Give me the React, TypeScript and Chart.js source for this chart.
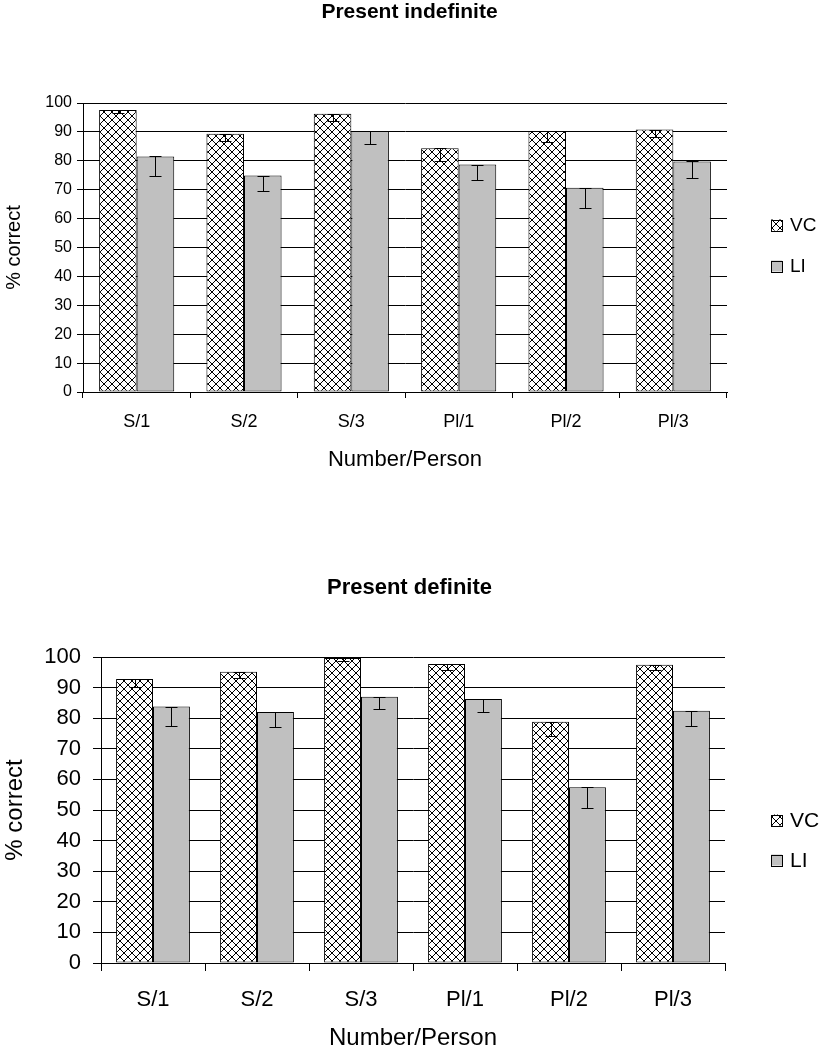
import React, { useEffect, useRef } from "react";
import { Chart, registerables } from "chart.js";

Chart.register(...registerables);

// ---- data ----
const categories = ["S/1", "S/2", "S/3", "Pl/1", "Pl/2", "Pl/3"];
const seriesNames = ["VC", "LI"];
const yTickValues = [0, 10, 20, 30, 40, 50, 60, 70, 80, 90, 100];

const indefiniteVC = [97.6, 89.4, 96.3, 84.3, 90.3, 90.8];
const indefiniteLI = [81.5, 74.9, 90.3, 78.7, 70.7, 79.8];
const indefiniteVCErr = [1.0, 2.6, 2.4, 4.2, 3.7, 2.4];
const indefiniteLIErr = [6.6, 5.5, 4.5, 5.4, 6.9, 5.7];

const definiteVC = [92.8, 95.2, 99.7, 97.7, 78.8, 97.5];
const definiteLI = [83.8, 82.0, 87.0, 86.3, 57.4, 82.4];
const definiteVCErr = [2.5, 2.0, 1.0, 2.0, 4.6, 1.8];
const definiteLIErr = [6.2, 5.0, 4.0, 4.2, 6.9, 4.8];

const FONT = "'Liberation Sans', Arial, Helvetica, sans-serif";

function makeHatch(): CanvasPattern | string {
  const c = document.createElement("canvas");
  c.width = 8;
  c.height = 8;
  const g = c.getContext("2d");
  if (!g) return "#fff";
  g.fillStyle = "#fff";
  g.fillRect(0, 0, 8, 8);
  g.strokeStyle = "#000";
  g.lineWidth = 1;
  g.beginPath();
  g.moveTo(0, 0);
  g.lineTo(8, 8);
  g.moveTo(8, 0);
  g.lineTo(0, 8);
  g.stroke();
  return g.createPattern(c, "repeat") || "#fff";
}

const errorBarPlugin = {
  id: "errorBars",
  afterDatasetsDraw(chart: any) {
    const { ctx } = chart;
    const yScale = chart.scales.y;
    chart.data.datasets.forEach((ds: any, di: number) => {
      const meta = chart.getDatasetMeta(di);
      const errs: number[] = ds.errors || [];
      meta.data.forEach((bar: any, i: number) => {
        const v = ds.data[i] as number;
        const e = errs[i] || 0;
        const x = Math.round(bar.x) + 0.5;
        const top = Math.round(yScale.getPixelForValue(v)) + 0.5;
        const bot = Math.round(yScale.getPixelForValue(v - e)) + 0.5;
        const cap = 6;
        ctx.save();
        ctx.strokeStyle = "#000";
        ctx.lineWidth = 1;
        ctx.beginPath();
        ctx.moveTo(x, top);
        ctx.lineTo(x, bot);
        ctx.moveTo(x - cap, bot);
        ctx.lineTo(x + cap, bot);
        ctx.moveTo(x - cap, top);
        ctx.lineTo(x + cap, top);
        ctx.stroke();
        ctx.restore();
      });
    });
  },
};

const sideLegendPlugin = {
  id: "sideLegend",
  afterDraw(chart: any, _args: any, opts: any) {
    const { ctx } = chart;
    const datasets = chart.data.datasets;
    ctx.save();
    datasets.forEach((ds: any, i: number) => {
      const cy = opts.ys[i];
      const bx = opts.x;
      const s = opts.box;
      ctx.fillStyle = ds.backgroundColor;
      ctx.fillRect(bx, cy - s / 2, s, s);
      ctx.strokeStyle = "#000";
      ctx.lineWidth = 1;
      ctx.strokeRect(bx + 0.5, Math.round(cy - s / 2) + 0.5, s, s);
      ctx.fillStyle = "#000";
      ctx.font = `${opts.size}px ${FONT}`;
      ctx.textBaseline = "middle";
      ctx.textAlign = "left";
      ctx.fillText(ds.label, opts.textX, cy + 1);
    });
    ctx.restore();
  },
};

type Cfg = {
  title: string;
  vc: number[];
  li: number[];
  vcErr: number[];
  liErr: number[];
  width: number;
  height: number;
  yWidth: number;
  rightWidth: number;
  xHeight: number;
  titleSize: number;
  titlePadTop: number;
  titlePadBottom: number;
  yTickSize: number;
  xTickSize: number;
  yTitleSize: number;
  xTitleSize: number;
  yTickLen: number;
  yTickPad: number;
  xTickLen: number;
  xTickPad: number;
  xTitlePad: number;
  yTitlePad: number;
  legendSize: number;
  legendX: number;
  legendTextX: number;
  legendYs: number[];
  catPct: number;
};

function BarPanel(props: { cfg: Cfg }) {
  const ref = useRef<HTMLCanvasElement | null>(null);
  const cfg = props.cfg;
  useEffect(() => {
    if (!ref.current) return;
    const hatch = makeHatch();
    const chart = new Chart(ref.current, {
      type: "bar",
      data: {
        labels: categories,
        datasets: [
          {
            label: seriesNames[0],
            data: cfg.vc,
            errors: cfg.vcErr,
            backgroundColor: hatch as any,
            borderColor: "#000",
            borderWidth: 1,
            borderSkipped: false,
          } as any,
          {
            label: seriesNames[1],
            data: cfg.li,
            errors: cfg.liErr,
            backgroundColor: "#c0c0c0",
            borderColor: "#000",
            borderWidth: 1,
            borderSkipped: false,
          } as any,
        ],
      },
      options: {
        responsive: false,
        animation: false,
        devicePixelRatio: 1,
        datasets: {
          bar: { categoryPercentage: cfg.catPct, barPercentage: 1 },
        },
        layout: { padding: 0 },
        plugins: {
          legend: { display: false },
          tooltip: { enabled: false },
          title: {
            display: true,
            text: cfg.title,
            color: "#000",
            font: { family: FONT, size: cfg.titleSize, weight: "bold", lineHeight: 1 },
            padding: { top: cfg.titlePadTop, bottom: cfg.titlePadBottom },
          },
          sideLegend: {
            x: cfg.legendX,
            textX: cfg.legendTextX,
            ys: cfg.legendYs,
            box: 11,
            size: cfg.legendSize,
          },
        } as any,
        scales: {
          x: {
            grid: {
              display: true,
              drawOnChartArea: false,
              drawTicks: true,
              tickLength: cfg.xTickLen,
              offset: true,
              color: "#000",
            },
            border: { display: true, color: "#000", width: 1 },
            ticks: {
              color: "#000",
              font: { family: FONT, size: cfg.xTickSize },
              padding: cfg.xTickPad,
              maxRotation: 0,
            },
            title: {
              display: true,
              text: "Number/Person",
              color: "#000",
              font: { family: FONT, size: cfg.xTitleSize, lineHeight: 1 },
              padding: { top: 0, bottom: cfg.xTitlePad },
            },
            afterFit: (s: any) => {
              s.height = cfg.xHeight;
            },
          },
          y: {
            min: 0,
            max: 100,
            afterBuildTicks: (s: any) => {
              s.ticks = yTickValues.map((v) => ({ value: v }));
            },
            grid: {
              color: "#000",
              drawTicks: true,
              tickLength: cfg.yTickLen,
            },
            border: { display: true, color: "#000", width: 1 },
            ticks: {
              color: "#000",
              font: { family: FONT, size: cfg.yTickSize },
              padding: cfg.yTickPad,
            },
            title: {
              display: true,
              text: "% correct",
              color: "#000",
              font: { family: FONT, size: cfg.yTitleSize, lineHeight: 1 },
              padding: { top: cfg.yTitlePad, bottom: 0 },
            },
            afterFit: (s: any) => {
              s.width = cfg.yWidth;
            },
          },
          // invisible spacer axis that reserves the legend column on the right
          legendSpace: {
            type: "linear",
            position: "right",
            display: true,
            min: 0,
            max: 100,
            grid: { display: false, drawTicks: false },
            border: { display: false },
            ticks: { display: false },
            afterFit: (s: any) => {
              s.width = cfg.rightWidth;
            },
          },
        },
      } as any,
      plugins: [errorBarPlugin, sideLegendPlugin],
    });
    return () => chart.destroy();
  }, [cfg]);
  return <canvas ref={ref} width={cfg.width} height={cfg.height} style={{ display: "block" }} />;
}

const topCfg: Cfg = {
  title: "Present indefinite",
  vc: indefiniteVC,
  li: indefiniteLI,
  vcErr: indefiniteVCErr,
  liErr: indefiniteLIErr,
  width: 819,
  height: 500,
  yWidth: 83,
  rightWidth: 92,
  xHeight: 108,
  titleSize: 21,
  titlePadTop: 2,
  titlePadBottom: 80,
  yTickSize: 16,
  xTickSize: 18,
  yTitleSize: 20,
  xTitleSize: 22,
  yTickLen: 6,
  yTickPad: 5,
  xTickLen: 6,
  xTickPad: 13,
  xTitlePad: 29,
  yTitlePad: 4,
  legendSize: 19,
  legendX: 771,
  legendTextX: 790,
  legendYs: [225, 266],
  catPct: 0.7,
};

const bottomCfg: Cfg = {
  title: "Present definite",
  vc: definiteVC,
  li: definiteLI,
  vcErr: definiteVCErr,
  liErr: definiteLIErr,
  width: 819,
  height: 525,
  yWidth: 101,
  rightWidth: 94,
  xHeight: 87,
  titleSize: 22,
  titlePadTop: 52,
  titlePadBottom: 58,
  yTickSize: 22,
  xTickSize: 22,
  yTitleSize: 24,
  xTitleSize: 24,
  yTickLen: 8,
  yTickPad: 12,
  xTickLen: 8,
  xTickPad: 16,
  xTitlePad: 0,
  yTitlePad: 3,
  legendSize: 21,
  legendX: 771,
  legendTextX: 790,
  legendYs: [295, 335],
  catPct: 0.71,
};

export default function App() {
  return (
    <div
      style={{
        position: "fixed",
        left: 0,
        top: 0,
        width: 819,
        height: 1050,
        background: "#fff",
        overflow: "hidden",
      }}
    >
      <div style={{ position: "absolute", left: 0, top: 0 }}>
        <BarPanel cfg={topCfg} />
      </div>
      <div style={{ position: "absolute", left: 0, top: 525 }}>
        <BarPanel cfg={bottomCfg} />
      </div>
    </div>
  );
}
